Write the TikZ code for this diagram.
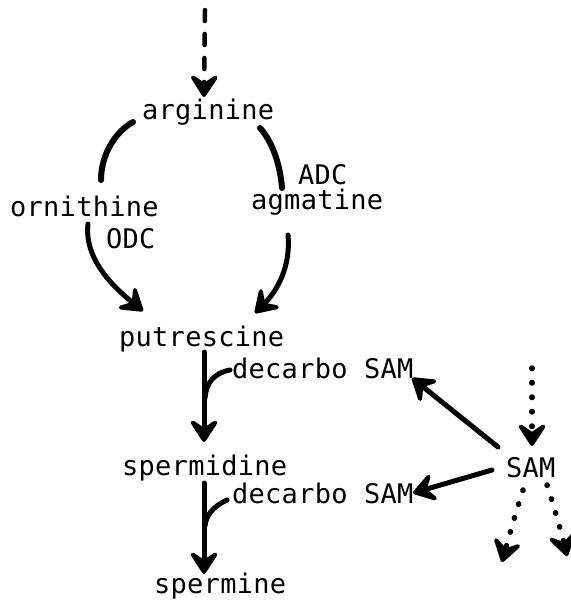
\documentclass[tikz,border=0pt]{standalone}
\usepackage{fontspec}
\newfontfamily\typewr{DejaVu Sans Mono}[LetterSpace=1]
\usetikzlibrary{arrows.meta}
\begin{document}
\begin{tikzpicture}[x=1pt,y=-1pt,
  lbl/.style={anchor=base west,inner sep=0pt,font=\typewr\fontsize{27}{32}\selectfont},
  stroke/.style={line width=5pt,line cap=round},
  arc/.style={line width=6pt,line cap=round},
  tip/.style={-{Stealth[length=28pt,width=36pt,inset=12pt,round]}},
  dashline/.style={line width=4.5pt,line cap=round,dash pattern=on 11pt off 13pt},
  dotline/.style={line width=5.5pt,line cap=round,dash pattern=on 0.5pt off 14pt}]
\useasboundingbox (0,0) rectangle (570,609);
\fill[white] (0,0) rectangle (570,609);

% compounds
\node[lbl] (arg)  at (142,120) {arginine};
\node[lbl] (orn)  at (10,217)  {ornithine};
\node[lbl] (odc)  at (106,248) {ODC};
\node[lbl] (adc)  at (298,185) {ADC};
\node[lbl] (agm)  at (251,210) {agmatine};
\node[lbl] (put)  at (119,346) {putrescine};
\node[lbl] (dsam1) at (232,378) {decarbo SAM};
\node[lbl] (spd)  at (122,475) {spermidine};
\node[lbl] (dsam2) at (232,503) {decarbo SAM};
\node[lbl] (spm)  at (154,593) {spermine};
\node[lbl] (sam)  at (506,477) {SAM};

% connector end points
\coordinate (in0) at (205,10);
\coordinate (argT) at (204,97);
\coordinate (argL) at (133,122);
\coordinate (ornT) at (101,180);
\coordinate (argR) at (260,128);
\coordinate (agmT) at (282,188);
\coordinate (ornB) at (88,224);
\coordinate (putL) at (143,311);
\coordinate (agmB) at (288,235);
\coordinate (putR) at (255,313);
\coordinate (putB) at (204,352);
\coordinate (spdT) at (204,442);
\coordinate (ds1) at (230,370);
\coordinate (j1) at (205,398);
\coordinate (spdB) at (204,483);
\coordinate (spmT) at (204,574);
\coordinate (ds2) at (227,500);
\coordinate (j2) at (205,526);
\coordinate (samIn) at (532,368);
\coordinate (samT) at (532,446);
\coordinate (samA) at (498,447);
\coordinate (ds1R) at (412,378);
\coordinate (samB) at (492,470);
\coordinate (ds2R) at (413,493);
\coordinate (samC) at (523,490);
\coordinate (outL) at (502,562);
\coordinate (samD) at (547,485);
\coordinate (outR) at (567,556);

% supply of arginine
\draw[dashline,tip] (in0) -- (argT);

% arginine branches
\draw[arc] (argL) .. controls (115,132) and (101,155) .. (ornT);
\draw[arc] (argR) .. controls (271,140) and (280,162) .. (agmT);

% routes into putrescine
\draw[stroke,tip] (ornB) .. controls (84,258) and (112,286) .. (putL);
\draw[stroke,tip] (agmB) .. controls (291,268) and (276,292) .. (putR);

% polyamine chain
\draw[stroke,tip] (putB) -- (spdT);
\draw[stroke] (ds1) .. controls (214,373) and (206,383) .. (j1);
\draw[stroke,tip] (spdB) -- (spmT);
\draw[stroke] (ds2) .. controls (212,507) and (206,516) .. (j2);

% SAM
\draw[dotline,tip] (samIn) -- (samT);
\draw[stroke,tip] (samA) -- (ds1R);
\draw[stroke,tip] (samB) -- (ds2R);
\draw[dotline,tip] (samC) .. controls (515,515) and (508,540) .. (outL);
\draw[dotline,tip] (samD) .. controls (555,510) and (562,535) .. (outR);
\end{tikzpicture}
\end{document}
